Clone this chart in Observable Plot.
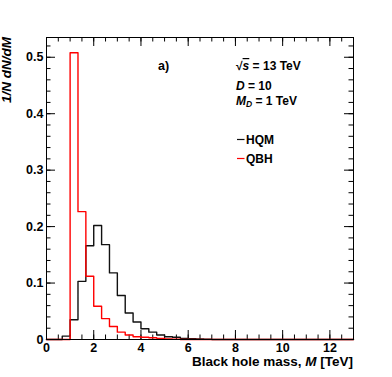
<!DOCTYPE html>
<html><head><meta charset="utf-8">
<script src="https://cdn.jsdelivr.net/npm/d3@7"></script>
<script src="https://cdn.jsdelivr.net/npm/@observablehq/plot@0.6"></script>
<style>
html,body{margin:0;padding:0;background:#fff;}
#chart svg{display:block;}
</style></head><body><div id="chart"></div>
<script>
// Histogram bins: 39 bins of width 1/3 TeV from 0 to 13 TeV
const binWidth = 1/3;
const massMax = 13;
const hqm = [0, 0, 0.006, 0.035, 0.103, 0.166, 0.202, 0.168, 0.118, 0.078,
             0.047, 0.031, 0.019, 0.013, 0.008, 0.005, 0.004, 0.002, 0.0015, 0.001,
             0.0005, 0, 0, 0, 0, 0, 0, 0, 0, 0,
             0, 0, 0, 0, 0, 0, 0, 0, 0];
const qbh = [0, 0, 0, 0.508, 0.2265, 0.112, 0.059, 0.037, 0.023, 0.013,
             0.008, 0.005, 0.004, 0.003, 0.002, 0.001, 0.0005, 0, 0, 0,
             0, 0, 0, 0, 0, 0, 0, 0, 0, 0,
             0, 0, 0, 0, 0, 0, 0, 0, 0];
const seriesNames = ["HQM", "QBH"];
const xMajorTicks = [0, 2, 4, 6, 8, 10, 12];
const yMajorTicks = [0, 0.1, 0.2, 0.3, 0.4, 0.5];
const xMinorTicks = d3.range(0, 13.001, 0.5);
const yMinorTicks = d3.range(0, 0.5301, 0.02);
const yMax = 0.535;

function steps(vals) {
  const pts = vals.map((v, i) => ({x: i * binWidth, y: v}));
  pts.push({x: massMax, y: vals[vals.length - 1]});
  return pts;
}

const W = 392, H = 377;
const mL = 46, mR = 39, mT = 37, mB = 38;
const innerW = W - mL - mR, innerH = H - mT - mB;
const major = 9, minor = 4.5;
const font = "'Liberation Sans', Arial, Helvetica, sans-serif";

const plot = Plot.plot({
  width: W, height: H,
  marginLeft: mL, marginRight: mR, marginTop: mT, marginBottom: mB,
  style: {fontFamily: font, fontWeight: "bold", fontSize: "12px", color: "#000", background: "#fff"},
  x: {domain: [0, massMax], axis: null},
  y: {domain: [0, yMax], axis: null},
  marks: [
    // inner ticks (ROOT style) on all four sides
    Plot.tickX(xMinorTicks, {x: d => d, insetTop: innerH - minor, stroke: "#000"}),
    Plot.tickX(xMajorTicks, {x: d => d, insetTop: innerH - major, stroke: "#000"}),
    Plot.tickX(xMinorTicks, {x: d => d, insetBottom: innerH - minor, stroke: "#000"}),
    Plot.tickX(xMajorTicks, {x: d => d, insetBottom: innerH - major, stroke: "#000"}),
    Plot.tickY(yMinorTicks, {y: d => d, insetRight: innerW - minor, stroke: "#000"}),
    Plot.tickY(yMajorTicks, {y: d => d, insetRight: innerW - major, stroke: "#000"}),
    Plot.tickY(yMinorTicks, {y: d => d, insetLeft: innerW - minor, stroke: "#000"}),
    Plot.tickY(yMajorTicks, {y: d => d, insetLeft: innerW - major, stroke: "#000"}),
    Plot.axisX({ticks: xMajorTicks, tickSize: 0, tickPadding: 4, tickFormat: d => String(d), label: null, fontSize: 12.5}),
    Plot.axisY({ticks: yMajorTicks, tickSize: 0, tickPadding: 3, tickFormat: d => d === 0 ? "0" : d.toFixed(1), label: null, fontSize: 12.5}),
    Plot.line(steps(hqm), {x: "x", y: "y", curve: "step-after", stroke: "#111", strokeWidth: 1.4}),
    Plot.line(steps(qbh), {x: "x", y: "y", curve: "step-after", stroke: "#ff0000", strokeWidth: 1.4}),
    Plot.frame({stroke: "#000", strokeWidth: 1})
  ]
});

document.getElementById("chart").appendChild(plot);

// Rich-text annotations
const svg = d3.select(plot);
const g = svg.append("g").attr("font-family", font).attr("font-weight", "bold")
  .attr("fill", "#000").attr("text-anchor", "start");

// y title
g.append("text").attr("transform", `translate(10.5,${mT}) rotate(-90)`)
  .attr("text-anchor", "end").attr("font-size", 13.5).attr("font-style", "italic")
  .text("1/N dN/dM");

// x title
const xt = g.append("text").attr("x", W - mR).attr("y", 366).attr("text-anchor", "end").attr("font-size", 13.5);
xt.append("tspan").text("Black hole mass, ");
xt.append("tspan").attr("font-style", "italic").text("M");
xt.append("tspan").text(" [TeV]");

// panel label
g.append("text").attr("x", 158).attr("y", 70).attr("font-size", 12.5).text("a)");

// conditions
const t1 = g.append("text").attr("x", 236).attr("y", 70).attr("font-size", 12);
t1.append("tspan").text("√");
t1.append("tspan").attr("font-style", "italic").attr("text-decoration", "overline").text("s");
t1.append("tspan").text(" = 13 TeV");

const t2 = g.append("text").attr("x", 236).attr("y", 89.5).attr("font-size", 12);
t2.append("tspan").attr("font-style", "italic").text("D");
t2.append("tspan").text(" = 10");

const t3 = g.append("text").attr("x", 236).attr("y", 104.5).attr("font-size", 12);
t3.append("tspan").attr("font-style", "italic").text("M");
t3.append("tspan").attr("font-style", "italic").attr("font-size", 8.5).attr("dy", 2.5).text("D");
t3.append("tspan").attr("dy", -2.5).text(" = 1 TeV");

// legend
const legendColors = ["#111", "#ff0000"];
const legendY = [139.5, 158.5];
seriesNames.forEach((name, i) => {
  g.append("line").attr("x1", 237).attr("x2", 244.5).attr("y1", legendY[i]).attr("y2", legendY[i])
    .attr("stroke", legendColors[i]).attr("stroke-width", 1.2);
  g.append("text").attr("x", 246).attr("y", legendY[i] + 4).attr("font-size", 12).text(name);
});
</script>
</body></html>
